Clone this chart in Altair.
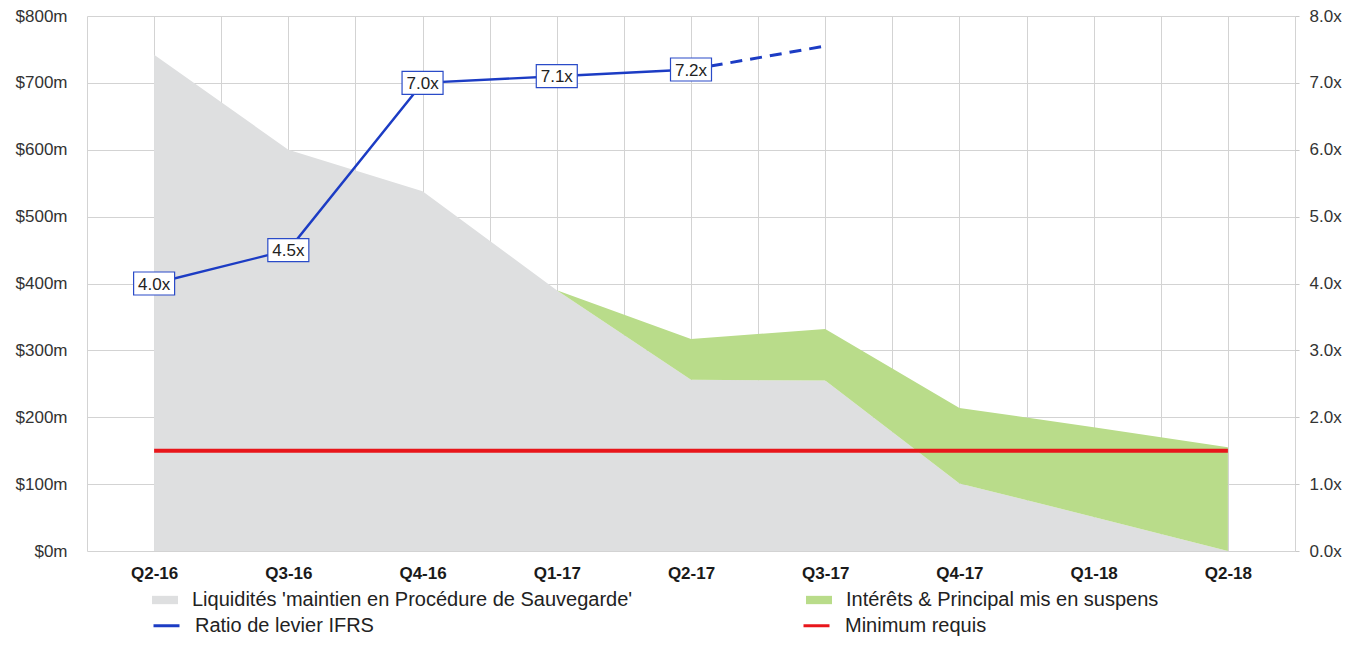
import json
import altair as alt
import pandas as pd

FONT = "Liberation Sans"

quarters = ["Q2-16", "Q3-16", "Q4-16", "Q1-17", "Q2-17", "Q3-17", "Q4-17", "Q1-18", "Q2-18"]
liquidites = [742, 600, 538, 390, 256, 255, 101, 51, 0]
suspens = [None, None, None, 0, 61, 77, 113, 134, 155]
minimum_requis = [150, 150, 150, 150, 150, 150, 150, 150, 150]
levier_q = ["Q2-16", "Q3-16", "Q4-16", "Q1-17", "Q2-17"]
levier = [4.0, 4.5, 7.0, 7.1, 7.2]
proj_q = ["Q2-17", "Q3-17"]
proj = [7.2, 7.55]

S_LIQ = "Liquidités 'maintien en Procédure de Sauvegarde'"
S_SUS = "Intérêts & Principal mis en suspens"
S_LEV = "Ratio de levier IFRS"
S_MIN = "Minimum requis"
area_series = [S_LIQ, S_SUS]
area_colors = ["#dedfe0", "#b9dc8a"]
line_series = [S_LEV, S_MIN]
line_colors = ["#1c3cc4", "#e8161b"]

qi = {q: i for i, q in enumerate(quarters)}

df_liq = pd.DataFrame({"idx": range(len(quarters)), "v": liquidites, "zone": S_LIQ})
keep = [i for i, s in enumerate(suspens) if s is not None]
df_sus = pd.DataFrame({
    "idx": keep,
    "lo": [liquidites[i] for i in keep],
    "hi": [liquidites[i] + suspens[i] for i in keep],
    "zone": S_SUS,
})
df_min = pd.DataFrame({"idx": range(len(quarters)), "v": minimum_requis, "courbe": S_MIN})
df_lev = pd.DataFrame({"idx": [qi[q] for q in levier_q], "v": levier, "courbe": S_LEV,
                       "label": [f"{v:.1f}x" for v in levier]})
df_proj = pd.DataFrame({"idx": [qi[q] for q in proj_q], "v": proj, "courbe": S_LEV})

label_expr = "datum.value % 1 == 0 ? " + json.dumps(quarters) + "[datum.value] : ''"
x_enc = alt.X(
    "idx:Q",
    scale=alt.Scale(domain=[-0.5, len(quarters) - 0.5], nice=False, zero=False),
    axis=alt.Axis(
        title=None, values=[i / 2 - 0.5 for i in range(2 * len(quarters) + 1)],
        labelExpr=label_expr, grid=True, gridColor="#d3d3d3", ticks=False, domain=False,
        labelFont=FONT, labelFontSize=17, labelFontWeight="bold", labelColor="#1a1a1a",
        labelPadding=14, labelFlush=False, labelOverlap=False,
    ),
)

left_axis = alt.Axis(
    title=None, values=list(range(0, 801, 100)), labelExpr="'$' + datum.value + 'm'",
    grid=True, gridColor="#d3d3d3", ticks=False, domain=False,
    labelFont=FONT, labelFontSize=17, labelColor="#333333", labelPadding=20,
)
y_left_scale = alt.Scale(domain=[0, 800], nice=False)

right_axis = alt.Axis(
    title=None, values=list(range(0, 9)), labelExpr="format(datum.value, '.1f') + 'x'",
    grid=False, ticks=True, tickSize=4, tickColor="#c8c8c8", domain=False, orient="right",
    labelFont=FONT, labelFontSize=17, labelColor="#333333", labelPadding=10,
)
y_right_scale = alt.Scale(domain=[0, 8], nice=False)

fill_legend = alt.Legend(
    title=None, orient="none", legendX=65, legendY=571, columns=2, columnPadding=173,
    labelFont=FONT, labelFontSize=20, labelColor="#222222", labelOffset=14,
    symbolSize=676, symbolType="M-1,-0.32L1,-0.32L1,0.32L-1,0.32Z", symbolStrokeWidth=0,
    symbolOpacity=1, labelLimit=800,
)
stroke_legend = alt.Legend(
    title=None, orient="none", legendX=65, legendY=595, columns=2, columnPadding=423,
    labelFont=FONT, labelFontSize=20, labelColor="#222222", labelOffset=14,
    symbolSize=676, symbolType="stroke", symbolStrokeWidth=3, symbolOpacity=1,
    labelLimit=800,
)
fill_enc = alt.Fill("zone:N", scale=alt.Scale(domain=area_series, range=area_colors),
                    legend=fill_legend)
stroke_enc = alt.Stroke("courbe:N", scale=alt.Scale(domain=line_series, range=line_colors),
                        legend=stroke_legend)

gray = alt.Chart(df_liq).mark_area(opacity=1).encode(
    x=x_enc, y=alt.Y("v:Q", scale=y_left_scale, axis=left_axis), fill=fill_enc)
green = alt.Chart(df_sus).mark_area(opacity=1).encode(
    x=x_enc, y=alt.Y("lo:Q", scale=y_left_scale, axis=left_axis), y2="hi:Q", fill=fill_enc)
red = alt.Chart(df_min).mark_line(strokeWidth=4).encode(
    x=x_enc, y=alt.Y("v:Q", scale=y_left_scale, axis=left_axis), stroke=stroke_enc)
left = alt.layer(gray, green, red)

yr = alt.Y("v:Q", scale=y_right_scale, axis=right_axis)
blue = alt.Chart(df_lev).mark_line(strokeWidth=2.4).encode(x=x_enc, y=yr, stroke=stroke_enc)
dashed = alt.Chart(df_proj).mark_line(strokeWidth=3, strokeDash=[12, 8]).encode(
    x=x_enc, y=yr, stroke=stroke_enc)
boxes = alt.Chart(df_lev).mark_point(
    shape="M-1,-0.56L1,-0.56L1,0.56L-1,0.56Z", size=1681, filled=True,
    fill="white", stroke="#2a4bc8", strokeWidth=1.2, opacity=1,
).encode(x=x_enc, y=yr)
texts = alt.Chart(df_lev).mark_text(
    font=FONT, fontSize=17, color="#222222", align="center", baseline="middle", dy=1,
).encode(x=x_enc, y=yr, text="label:N")
right = alt.layer(blue, dashed, boxes, texts)

chart = alt.layer(left, right).resolve_scale(y="independent").properties(
    width=1208, height=535,
    padding={"left": 79, "top": 8, "right": 47, "bottom": 85},
    autosize=alt.AutoSizeParams(type="none"),
).configure_view(stroke=None)

chart.save("out.html", embed_options={"renderer": "svg", "actions": False})
